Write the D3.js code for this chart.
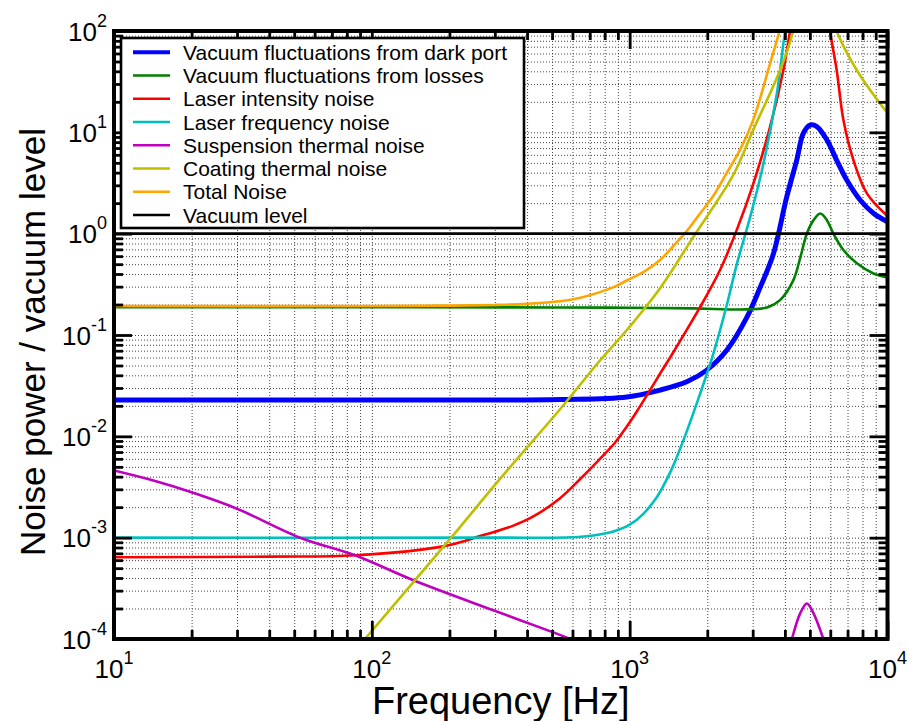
<!DOCTYPE html>
<html>
<head>
<meta charset="utf-8">
<script src="https://cdn.jsdelivr.net/npm/d3@7"></script>
<style>
  body { margin: 0; background: #fff; }
  svg { display: block; }
  text { font-family: "Liberation Sans", Arial, Helvetica, sans-serif; fill: #000; }
</style>
</head>
<body>
<svg id="chart" width="910" height="721"></svg>
<script>
// Noise spectra, [frequency Hz, noise power / vacuum level]
const darkPort = [[10,0.0228],[100,0.0228],[537,0.0231],[975,0.0245],[1312,0.0286],[1665,0.0345],[1991,0.045],[2383,0.071],[2847,0.149],[3207,0.295],[3608,0.63],[4064,2.29],[4446,5.33],[4718,9.8],[5010,11.8],[5320,11.4],[5821,8.4],[6353,5.3],[6950,3.38],[7830,2.15],[8820,1.59],[10000,1.31]];
const losses = [[10,0.188],[100,0.188],[537,0.187],[1000,0.186],[1762,0.183],[2847,0.179],[3405,0.187],[3830,0.221],[4315,0.348],[4584,0.575],[4866,1.0],[5166,1.36],[5484,1.58],[5821,1.36],[6170,1.0],[6746,0.69],[7606,0.51],[8820,0.405],[10000,0.37]];
const intensity = [[10,6.4e-4],[40,6.5e-4],[87,6.7e-4],[189,8.2e-4],[271,1.06e-3],[350,1.3e-3],[423,1.62e-3],[537,2.45e-3],[650,3.9e-3],[767,6.0e-3],[875,8.6e-3],[975,0.0125],[1060,0.0172],[1164,0.0252],[1300,0.040],[1479,0.068],[1875,0.188],[2244,0.44],[2603,1.09],[3020,3.14],[3506,11.4],[3945,41],[4188,100],[4600,400],[5100,1000],[5600,400],[5985,100],[6353,41],[6746,13.2],[7379,5.3],[8318,2.5],[10000,1.49]];
const frequency = [[10,1e-3],[300,1e-3],[600,1.01e-3],[723,1.05e-3],[865,1.15e-3],[1004,1.35e-3],[1130,1.72e-3],[1274,2.5e-3],[1380,3.6e-3],[1479,5.2e-3],[1665,0.0112],[1875,0.0262],[2113,0.0658],[2383,0.2],[2603,0.5],[2931,1.45],[3303,4.9],[3725,24.3],[4008,100],[4400,400]];
const suspension = [[10,4.6e-3],[14,3.7e-3],[20,2.8e-3],[30,1.93e-3],[52.7,1.0e-3],[86,6.7e-4],[145,3.8e-4],[296,1.92e-4],[521,1.13e-4],[600,9.8e-5],[1000,null],[4150,8e-5],[4256,1e-4],[4584,1.79e-4],[4866,2.24e-4],[5166,1.79e-4],[5640,1e-4],[5800,8e-5]];
const coating = [[94,1e-4],[203,1e-3],[314,3.8e-3],[537,0.0185],[767,0.056],[975,0.112],[1312,0.29],[1766,0.93],[2523,3.8],[3012,10.5],[3830,41],[4310,100],[4800,400],[5300,500],[5800,250],[6353,100],[7606,41],[9795,16.6],[10000,15.8]];
const total = [[10,0.193],[100,0.193],[200,0.195],[300,0.198],[400,0.203],[537,0.215],[650,0.235],[767,0.265],[875,0.30],[975,0.345],[1150,0.43],[1312,0.55],[1480,0.76],[1665,1.06],[1875,1.58],[2109,2.35],[2383,4.0],[2679,6.7],[3012,13.2],[3506,48],[3830,105],[4200,300]];
const vacuum = [[10,1],[10000,1]];

const seriesNames = ["Vacuum fluctuations from dark port","Vacuum fluctuations from losses","Laser intensity noise","Laser frequency noise","Suspension thermal noise","Coating thermal noise","Total Noise","Vacuum level"];
const seriesColors = ["#0000ff","#008000","#ff0000","#00bfbf","#bf00bf","#bfbf00","#ffa500","#000000"];
const seriesData = [darkPort, losses, intensity, frequency, suspension, coating, total, vacuum];

const xTickExponents = [1,2,3,4];
const yTickExponents = [-4,-3,-2,-1,0,1,2];

const svg = d3.select("#chart");
const L = 114, R = 887.5, T = 31, B = 639;

const x = d3.scaleLog().domain([10, 1e4]).range([L, R]);
const y = d3.scaleLog().domain([1e-4, 1e2]).range([B, T]);

function minorTicks(lo, hi) {
  const out = [];
  for (let e = lo; e < hi; e++) for (let m = 1; m <= 9; m++) out.push(m * Math.pow(10, e));
  out.push(Math.pow(10, hi));
  return out;
}
const xAll = minorTicks(1, 4);
const yAll = minorTicks(-4, 2);
const xMajor = xTickExponents.map(e => Math.pow(10, e));
const yMajor = yTickExponents.map(e => Math.pow(10, e));

svg.append("rect").attr("x", 0).attr("y", 0).attr("width", 910).attr("height", 721).attr("fill", "#fff");

// dotted grid
function styleGrid(g) {
  g.select(".domain").remove();
  g.selectAll("line").attr("stroke", "#444").attr("stroke-width", 1).attr("stroke-dasharray", "1,2");
}
svg.append("g").attr("transform", `translate(0,${B})`)
  .call(d3.axisBottom(x).tickValues(xAll).tickSize(-(B - T)).tickFormat(""))
  .call(styleGrid);
svg.append("g").attr("transform", `translate(${L},0)`)
  .call(d3.axisLeft(y).tickValues(yAll).tickSize(-(R - L)).tickFormat(""))
  .call(styleGrid);

// curves
svg.append("clipPath").attr("id", "plotClip")
  .append("rect").attr("x", L).attr("y", T).attr("width", R - L).attr("height", B - T);

const line = d3.line()
  .defined(d => d[1] != null)
  .x(d => x(d[0]))
  .y(d => y(d[1]))
  .curve(d3.curveCatmullRom.alpha(0.5));

const curves = svg.append("g").attr("clip-path", "url(#plotClip)");
seriesData.forEach((data, i) => {
  curves.append("path")
    .attr("d", line(data))
    .attr("fill", "none")
    .attr("stroke", seriesColors[i])
    .attr("stroke-width", i === 0 ? 5 : 2.6)
    .attr("stroke-linejoin", "round");
});

// tick marks on all four sides, pointing inward
function styleTicks(g) {
  g.select(".domain").remove();
  g.selectAll("line").attr("stroke", "#000").attr("stroke-width", 2.8);
}
const minorX = xAll.filter(v => !xMajor.includes(v));
const minorY = yAll.filter(v => !yMajor.some(m => Math.abs(m - v) / m < 1e-9));
[[d3.axisBottom, B], [d3.axisTop, T]].forEach(([ax, pos]) => {
  svg.append("g").attr("transform", `translate(0,${pos})`)
    .call(ax(x).tickValues(minorX).tickSize(-9).tickFormat("")).call(styleTicks);
  svg.append("g").attr("transform", `translate(0,${pos})`)
    .call(ax(x).tickValues(xMajor).tickSize(-18).tickFormat("")).call(styleTicks);
});
[[d3.axisLeft, L], [d3.axisRight, R]].forEach(([ax, pos]) => {
  svg.append("g").attr("transform", `translate(${pos},0)`)
    .call(ax(y).tickValues(minorY).tickSize(-9).tickFormat("")).call(styleTicks);
  svg.append("g").attr("transform", `translate(${pos},0)`)
    .call(ax(y).tickValues(yMajor).tickSize(-18).tickFormat("")).call(styleTicks);
});

// frame
svg.append("rect").attr("x", L).attr("y", T).attr("width", R - L).attr("height", B - T)
  .attr("fill", "none").attr("stroke", "#000").attr("stroke-width", 4);

// tick labels: 10 with superscript exponent
const xl = svg.append("g").selectAll("text").data(xTickExponents).join("text")
  .attr("x", e => x(Math.pow(10, e))).attr("y", 678)
  .attr("text-anchor", "middle").attr("font-size", 26);
xl.append("tspan").text("10");
xl.append("tspan").attr("dy", -14).attr("font-size", 18).text(e => e);

const yl = svg.append("g").selectAll("text").data(yTickExponents).join("text")
  .attr("x", 107).attr("y", e => y(Math.pow(10, e)) + 9.5)
  .attr("text-anchor", "end").attr("font-size", 26);
yl.append("tspan").text("10");
yl.append("tspan").attr("dy", -14).attr("font-size", 18).text(e => e);

// axis titles
svg.append("text").attr("x", (L + R) / 2).attr("y", 714).attr("text-anchor", "middle")
  .attr("font-size", 38).text("Frequency [Hz]");
svg.append("text").attr("transform", "translate(45,342) rotate(-90)")
  .attr("text-anchor", "middle").attr("font-size", 35).text("Noise power / vacuum level");

// legend
const lg = svg.append("g");
lg.append("rect").attr("x", 121).attr("y", 38).attr("width", 403).attr("height", 190)
  .attr("fill", "#fff").attr("stroke", "#000").attr("stroke-width", 2.6);
const rows = lg.selectAll("g.row").data(seriesNames).join("g").attr("class", "row")
  .attr("transform", (d, i) => `translate(0,${52.3 + i * 23.25})`);
rows.append("line").attr("x1", 133).attr("x2", 170).attr("y1", 0).attr("y2", 0)
  .attr("stroke", (d, i) => seriesColors[i]).attr("stroke-width", (d, i) => i === 0 ? 4 : 2.6);
rows.append("text").attr("x", 183).attr("y", 7.5).attr("font-size", 21).text(d => d);
</script>
</body>
</html>
